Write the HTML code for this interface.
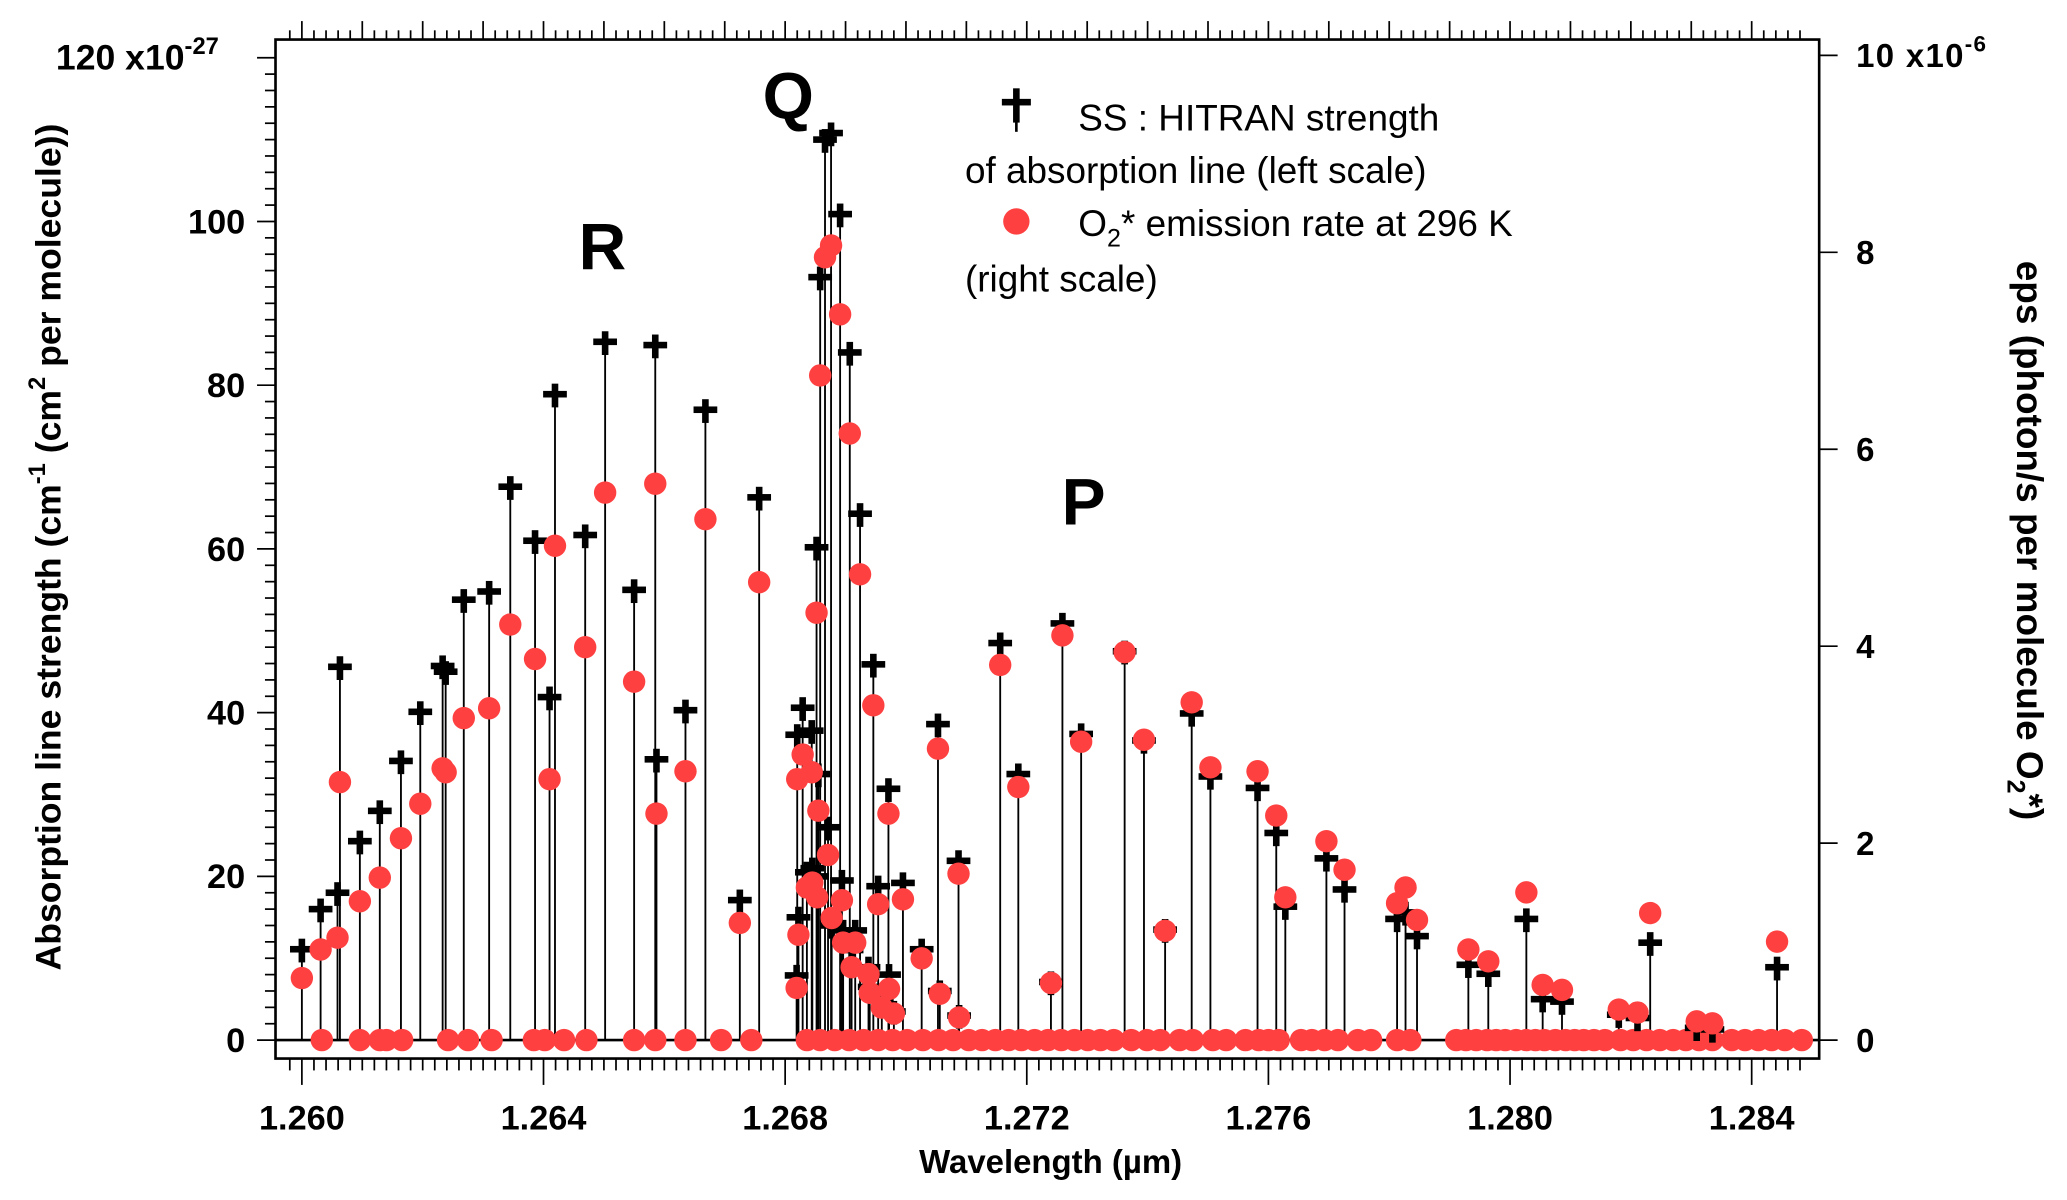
<!DOCTYPE html>
<html><head><meta charset="utf-8"><style>
html,body{margin:0;padding:0;background:#fff;}
svg{display:block;font-family:"Liberation Sans",Arial,sans-serif;}
</style></head><body>
<svg id="chart" width="2067" height="1200" viewBox="0 0 1568 910.3" preserveAspectRatio="none" xmlns="http://www.w3.org/2000/svg">
<g id="axes"></g>
<g id="stems"></g>
<g id="marks"></g>
<text x="598" y="90" font-size="50" font-weight="bold" text-anchor="middle">Q</text>
<text x="457" y="204" font-size="50" font-weight="bold" text-anchor="middle">R</text>
<text x="822" y="398" font-size="50" font-weight="bold" text-anchor="middle">P</text>
<g font-size="28">
  <g><rect x="760" y="75" width="22" height="5"/><rect x="768.5" y="67" width="5" height="26"/><rect x="770" y="90" width="2" height="10"/></g>
  <text x="818" y="99">SS : HITRAN strength</text>
  <text x="732" y="139">of absorption line (left scale)</text>
  <circle cx="771" cy="168" r="10" fill="#ff4040"/>
  <text x="818" y="179">O<tspan font-size="19" dy="8">2</tspan><tspan dy="-8">* emission rate at 296 K</tspan></text>
  <text x="732" y="221">(right scale)</text>
</g>
<text x="797" y="890" font-size="25" font-weight="bold" text-anchor="middle">Wavelength (µm)</text>
<text transform="translate(46,415) rotate(-90)" font-size="27" font-weight="bold" text-anchor="middle">Absorption line strength (cm<tspan font-size="18" dy="-12">-1</tspan><tspan dy="12"> (cm</tspan><tspan font-size="18" dy="-12">2</tspan><tspan dy="12">  per molecule))</tspan></text>
<text transform="translate(1530,410) rotate(90)" font-size="28" font-weight="bold" text-anchor="middle">eps (photon/s per molecule O<tspan font-size="19" dy="7">2</tspan><tspan dy="-7">*)</tspan></text>
</svg>
<script>
// ---- data ----
const lineWavelengths = [1.26000,1.26031,1.26059,1.26063,1.26096,1.26129,1.26164,1.26196,1.26233,1.26238,1.26268,1.26310,1.26345,1.26386,1.26410,1.26419,1.26469,1.26502,1.26550,1.26585,1.26587,1.26635,1.26668,1.26725,1.26757,
1.26819,1.26820,1.26822,1.26829,1.26836,1.26844,1.26845,1.26852,1.26853,1.26855,1.26858,1.26866,1.26871,1.26876,1.26877,1.26891,1.26894,1.26896,1.26907,1.26910,1.26916,1.26924,1.26938,1.26940,1.26946,1.26954,1.26960,1.26971,1.26972,1.26980,1.26995,1.27026,1.27053,1.27056,1.27087,1.27088,1.27156,1.27186,
1.27240,1.27259,1.27290,1.27362,1.27394,1.27429,1.27473,1.27504,1.27582,1.27613,1.27628,1.27696,1.27726,1.27813,1.27827,1.27846,1.27931,1.27964,1.28027,1.28054,1.28086,1.28180,1.28211,1.28232,1.28309,1.28335,1.28442];
const hitranStrength = [11.1,16,18,45.6,24.3,28,34.1,40.1,45.7,45,53.8,54.8,67.6,61,41.9,78.9,61.7,85.3,55,84.9,34.3,40.3,77,17.1,66.3,
7.9,37.3,15,40.6,20.5,37.8,21,60.2,20,32.5,93.2,110,26,110.8,14,100.9,19.5,13.4,84,11,13.4,64.3,8.9,6.5,45.9,18.8,5,30.7,8,3.5,19.2,11.1,38.6,6,21.9,3,48.5,32.5,
7.1,50.9,37.4,47.5,36.6,13.5,39.9,32.2,30.8,25.3,16.3,22.2,18.4,14.8,15.6,12.7,9.2,8.1,14.8,5,4.7,3.1,2.7,11.9,1.5,1.3,8.9];
const emissionRate = [0.63,0.92,1.04,2.62,1.41,1.65,2.05,2.4,2.76,2.72,3.27,3.37,4.22,3.87,2.65,5.02,3.99,5.56,3.64,5.65,2.30,2.73,5.29,1.19,4.65,
0.53,2.65,1.07,2.9,1.55,2.72,1.6,4.34,1.45,2.33,6.75,7.95,1.88,8.07,1.24,7.37,1.42,0.99,6.16,0.74,0.99,4.73,0.67,0.48,3.4,1.38,0.33,2.3,0.52,0.27,1.43,0.83,2.96,0.47,1.69,0.23,3.81,2.57,
0.58,4.11,3.03,3.94,3.05,1.11,3.43,2.77,2.73,2.28,1.45,2.02,1.73,1.39,1.55,1.22,0.92,0.8,1.5,0.56,0.51,0.31,0.28,1.29,0.19,0.17,1.0];
const zeroLineWavelengths = [1.26033,1.26096,1.26129,1.26140,1.26166,1.26242,1.26275,1.26314,1.26384,1.26402,1.26434,1.26471,1.26550,1.26585,1.26635,1.26694,1.26744,
1.26836,1.26858,1.26882,1.26906,1.26930,1.26954,1.26978,1.27002,1.27028,1.27054,1.27078,1.27104,1.27126,1.27148,1.27170,1.27191,1.27213,1.27235,1.27257,1.27279,1.27301,1.27322,1.27344,1.27373,1.27399,1.27421,1.27453,1.27475,1.27508,1.27530,1.27562,1.27584,1.27600,1.27617,1.27654,1.27672,1.27693,1.27715,1.27748,1.27770,1.27813,1.27835,1.27911,1.27927,1.27944,1.27962,1.27977,1.27992,1.28010,1.28027,1.28042,1.28057,1.28075,1.28092,1.28107,1.28122,1.28139,1.28157,1.28183,1.28204,1.28226,1.28248,1.28270,1.28291,1.28313,1.28335,1.28367,1.28389,1.28411,1.28433,1.28455,1.28483];
const xTickLabels = ["1.260","1.264","1.268","1.272","1.276","1.280","1.284"];
const leftTickLabels = ["0","20","40","60","80","100","120 x10"];
const rightTickLabels = ["0","2","4","6","8","10 x10"];

// ---- scales ----
const NS="http://www.w3.org/2000/svg";
const X0=229, PXW=183.3/0.004, Y0=789;
const xs = w => X0 + (w-1.260)*PXW;
const yl = v => Y0 - v*6.21;
const yr = v => Y0 - v*74.7;
const L=209,R=1380,T=30,B=803;
function mk(tag, attrs, parent){const e=document.createElementNS(NS,tag);for(const k in attrs)e.setAttribute(k,attrs[k]);parent.appendChild(e);return e;}
const axes=document.getElementById('axes'), stems=document.getElementById('stems'), marks=document.getElementById('marks');

let fr=mk('rect',{x:L,y:T,width:R-L,height:B-T,fill:'none',stroke:'#000','stroke-width':2},axes);


let zl=mk('line',{x1:L,x2:R,y1:Y0,y2:Y0,stroke:'#000','stroke-width':2},axes);



// x ticks
for(let i=0;i<=125;i++){
  const w=1.2598+i*0.0002; const x=xs(w);
  if(x<L+2||x>R-2) continue;
  const major = Math.abs(Math.round(w*1000)%4)===0 && Math.abs(w*1000-Math.round(w*1000))<1e-6;
  const mid = Math.abs(w*1000-Math.round(w*1000))<1e-6;
  const t1=mk('line',{x1:x,x2:x,y1:B,y2:B+(major?20:9),stroke:'#000','stroke-width':1.3},axes);
  
  
  const t2=mk('line',{x1:x,x2:x,y1:T,y2:T-(mid?14:7),stroke:'#000','stroke-width':1.3},axes);
  
  
}
xTickLabels.forEach((s,i)=>{
  const t=mk('text',{x:xs(1.260+i*0.004),y:857,'font-size':26,'font-weight':'bold','text-anchor':'middle'},axes);
  t.textContent=s;
  
  
});
// left ticks
for(let v=0;v<=120;v+=2){
  const y=yl(v); const major=v%20===0;
  const t=mk('line',{x1:L-(major?14:8),x2:L,y1:y,y2:y,stroke:'#000','stroke-width':1.3},axes);
  
  
}
leftTickLabels.forEach((s,i)=>{
  const t=mk('text',{x:i===6?166:186,y:yl(i*20)+9,'font-size':i===6?27:26,'font-weight':'bold','text-anchor':'end'},axes);
  t.textContent=s;
  if(i===6){const sp=mk('tspan',{'font-size':18,dy:-12},t);sp.textContent='-27';}
  
  
});
// right ticks
rightTickLabels.forEach((s,i)=>{
  const y=yr(i*2);
  const tk=mk('line',{x1:R,x2:R+14,y1:y,y2:y,stroke:'#000','stroke-width':1.3},axes);
  
  
  const t=mk('text',{x:1408,y:y+9,'font-size':25,'font-weight':'bold','letter-spacing':'1'},axes);
  t.textContent=s;
  if(i===5){const sp=mk('tspan',{'font-size':17,dy:-12},t);sp.textContent='-6';}
  
  
});

// stems + marks
lineWavelengths.forEach((w,i)=>{
  const x=xs(w);
  const s=mk('line',{x1:x,x2:x,y1:Y0,y2:yl(hitranStrength[i]),stroke:'#000','stroke-width':1.4},stems);
  
  
});
zeroLineWavelengths.forEach(w=>{
  const c=mk('circle',{cx:xs(w),cy:Y0,r:8.5,fill:'#ff4040'},marks);
  
  
});
lineWavelengths.forEach((w,i)=>{
  const x=xs(w), y=yl(hitranStrength[i]);
  const g=mk('g',{},marks);
  
  
  mk('rect',{x:x-9,y:y-2.5,width:18,height:5,fill:'#000'},g);
  mk('rect',{x:x-2.5,y:y-8,width:5,height:18,fill:'#000'},g);
});
lineWavelengths.forEach((w,i)=>{
  const c=mk('circle',{cx:xs(w),cy:yr(emissionRate[i]),r:8.5,fill:'#ff4040'},marks);
  
  
});
</script>
</body></html>
